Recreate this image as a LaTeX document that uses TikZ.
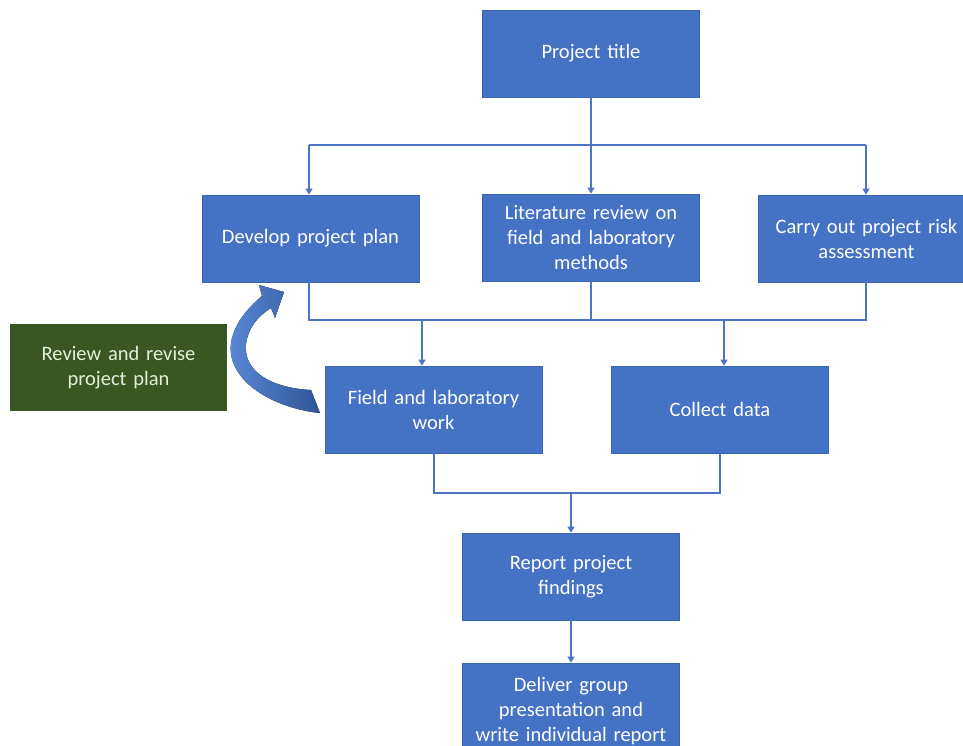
\documentclass[tikz,border=0pt]{standalone}
\usepackage{fontspec}
\setmainfont{Carlito}
\usetikzlibrary{arrows.meta,calc}
\definecolor{boxblue}{HTML}{4472C4}
\definecolor{boxedge}{HTML}{3A64AE}
\definecolor{linkblue}{HTML}{4A74C4}
\definecolor{boxgreen}{HTML}{385723}
\definecolor{greentext}{HTML}{E2EFDA}
\definecolor{arrlight}{HTML}{5A8AD6}
\definecolor{arrdark}{HTML}{2E5597}
\tikzset{
  stepbox/.style={draw=boxedge, line width=0.8pt, fill=boxblue, text=white,
    minimum width=217pt, minimum height=87pt, align=center, text width=210pt,
    inner sep=0pt, font=\fontsize{20.5}{25}\selectfont},
  greenbox/.style={stepbox, draw=none, fill=boxgreen, text=greentext},
  link/.style={draw=linkblue, line width=1.6pt},
  linkarrow/.style={link, -{Triangle[width=7pt,length=6pt]}},
}
\begin{document}
\begin{tikzpicture}[x=1pt,y=-1pt]
\useasboundingbox (0,0) rectangle (963,745);
\node[stepbox] (title) at (591,53.5) {Project title};
\node[stepbox] (dev) at (310.5,238.5) {Develop project plan};
\node[stepbox] (lit) at (591,237.5) {Literature review on\\field and laboratory\\methods};
\node[stepbox] (risk) at (866.5,238.5) {Carry out project risk\\assessment};
\node[stepbox] (field) at (433.5,409.5) {Field and laboratory\\work};
\node[stepbox] (collect) at (720,409.5) {Collect data};
\node[stepbox] (report) at (571,576.5) {Report project\\findings};
\node[stepbox, minimum height=96pt] (deliver) at (571,711) {Deliver group\\presentation and\\write individual report};
\node[greenbox] (review) at (118.5,367.5) {Review and revise\\project plan};

% level 1 split
\coordinate (j1) at (591,145);
\coordinate (j1l) at (309,145);
\coordinate (j1r) at (866,145);
\draw[link] (title.south) -- (j1);
\draw[link] (j1l) -- (j1r);
\draw[linkarrow] (j1l) -- (j1l |- dev.north);
\draw[linkarrow] (j1) -- (lit.north);
\draw[linkarrow] (j1r) -- (j1r |- risk.north);

% level 2 merge
\coordinate (j2l) at (309,320);
\coordinate (j2m) at (591,320);
\coordinate (j2r) at (866,320);
\coordinate (j2a) at (422,320);
\coordinate (j2b) at (724,320);
\draw[link] (j2l |- dev.south) -- (j2l) -- (j2r) -- (j2r |- risk.south);
\draw[link] (lit.south) -- (j2m);
\draw[linkarrow] (j2a) -- (j2a |- field.north);
\draw[linkarrow] (j2b) -- (j2b |- collect.north);

% level 3 merge
\coordinate (j3l) at (434,493);
\coordinate (j3r) at (720,493);
\coordinate (j3m) at (571,493);
\draw[link] (j3l |- field.south) -- (j3l) -- (j3r) -- (j3r |- collect.south);
\draw[linkarrow] (j3m) -- (report.north);
\draw[linkarrow] (report.south) -- (deliver.north);

% curved block arrow from field work back to the project plan
\fill[left color=arrlight, right color=arrdark]
  (320,413) .. controls (288,410) and (244,393) .. (233,362)
  .. controls (225,340) and (238,316) .. (262,296)
  -- (259,285) -- (284,292) -- (275,318) -- (271,308)
  .. controls (258,316) and (248,328) .. (246,344)
  .. controls (243,372) and (272,388) .. (311,390) -- cycle;
\end{tikzpicture}
\end{document}
